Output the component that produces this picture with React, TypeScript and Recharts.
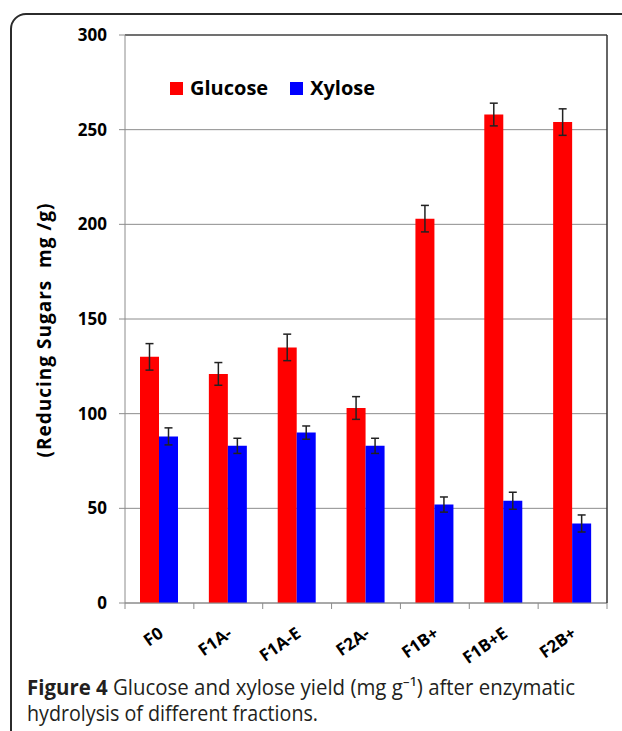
import { Bar, BarChart, CartesianGrid, ErrorBar, Legend, ReferenceLine, XAxis, YAxis } from 'recharts';

const CATEGORIES = ['F0', 'F1A-', 'F1A-E', 'F2A-', 'F1B+', 'F1B+E', 'F2B+'];
const GLUCOSE = [130, 121, 135, 103, 203, 258, 254];
const GLUCOSE_ERR = [7, 6, 7, 6, 7, 6, 7];
const XYLOSE = [88, 83, 90, 83, 52, 54, 42];
const XYLOSE_ERR = [4.5, 4, 3.5, 4, 4, 4.5, 4.5];
const Y_TICKS = [0, 50, 100, 150, 200, 250, 300];

const WIDTH = 622;
const HEIGHT = 731;
const PLOT_LEFT = 125;
const PLOT_RIGHT = 607;
const PLOT_TOP = 35;
const PLOT_BOTTOM = 603;
const Y_AXIS_W = 60;
const X_AXIS_H = 40;
const STEP = (PLOT_RIGHT - PLOT_LEFT) / CATEGORIES.length;

const FONT = '"Open Sans", "Noto Sans", sans-serif';
const GRID = '#8c8c8c';

const data = CATEGORIES.map((name, i) => ({
  name,
  glucose: GLUCOSE[i],
  glucoseErr: GLUCOSE_ERR[i],
  xylose: XYLOSE[i],
  xyloseErr: XYLOSE_ERR[i],
}));

function CategoryTick({ x, y, payload, index }: any) {
  const left = x - STEP / 2;
  const ax = x + 5;
  const ay = y + 33;
  return (
    <g>
      <line x1={left} x2={left} y1={y} y2={y + 6} stroke={GRID} />
      {index === CATEGORIES.length - 1 && (
        <line x1={x + STEP / 2} x2={x + STEP / 2} y1={y} y2={y + 6} stroke={GRID} />
      )}
      <text
        x={ax}
        y={ay}
        transform={`rotate(-35, ${ax}, ${ay})`}
        textAnchor="end"
        fontFamily={FONT}
        fontWeight={700}
        fontSize={17}
        fill="#000"
      >
        {payload.value}
      </text>
    </g>
  );
}

function LegendContent({ payload }: any) {
  return (
    <div style={{ display: 'flex', alignItems: 'center', fontFamily: FONT, fontWeight: 700, fontSize: 20 }}>
      {(payload || []).map((item: any, i: number) => (
        <span key={item.value} style={{ display: 'flex', alignItems: 'center', marginRight: i === 0 ? 22 : 0 }}>
          <span style={{ width: 13, height: 13, background: item.color, marginRight: 7 }} />
          <span style={{ color: '#000', lineHeight: '20px' }}>{item.value}</span>
        </span>
      ))}
    </div>
  );
}

export default function App() {
  return (
    <div style={{ position: 'absolute', left: 0, top: 0, width: WIDTH, height: HEIGHT, overflow: 'hidden', background: '#fff' }}>
      <div
        style={{
          position: 'absolute',
          left: 10,
          top: 13,
          width: 660,
          height: 740,
          border: '2px solid #2b2b2b',
          borderRadius: 16,
          boxSizing: 'border-box',
        }}
      />
      <div style={{ position: 'absolute', left: 0, top: 0 }}>
        <BarChart
          width={WIDTH}
          height={HEIGHT}
          data={data}
          margin={{
            top: PLOT_TOP,
            right: WIDTH - PLOT_RIGHT - 1,
            left: PLOT_LEFT - Y_AXIS_W,
            bottom: HEIGHT - PLOT_BOTTOM - X_AXIS_H,
          }}
          barCategoryGap={15}
          barGap={0}
        >
          <CartesianGrid vertical={false} stroke={GRID} />
          <XAxis
            dataKey="name"
            height={X_AXIS_H}
            interval={0}
            tickSize={0}
            tickMargin={0}
            tickLine={false}
            axisLine={{ stroke: GRID }}
            tick={<CategoryTick />}
          />
          <YAxis
            width={Y_AXIS_W}
            domain={[0, 300]}
            ticks={Y_TICKS}
            interval={0}
            tickSize={6}
            tickMargin={12}
            axisLine={{ stroke: GRID }}
            tickLine={{ stroke: GRID }}
            tick={{ fill: '#000', fontSize: 17, fontWeight: 700, fontFamily: FONT }}
          />
          <YAxis
            yAxisId="frame"
            orientation="right"
            width={1}
            domain={[0, 300]}
            tick={false}
            tickLine={false}
            axisLine={{ stroke: '#333', strokeWidth: 1.5 }}
          />
          <ReferenceLine y={300} stroke="#555" strokeWidth={1.5} />
          <Legend
            layout="vertical"
            align="center"
            verticalAlign="middle"
            wrapperStyle={{ left: 170, top: 78, width: 'auto', height: 'auto' }}
            content={<LegendContent />}
          />
          <Bar dataKey="glucose" name="Glucose" fill="#ff0000" isAnimationActive={false}>
            <ErrorBar dataKey="glucoseErr" direction="y" width={4} stroke="#222" strokeWidth={1.5} isAnimationActive={false} />
          </Bar>
          <Bar dataKey="xylose" name="Xylose" fill="#0000ff" isAnimationActive={false}>
            <ErrorBar dataKey="xyloseErr" direction="y" width={4} stroke="#222" strokeWidth={1.5} isAnimationActive={false} />
          </Bar>
        </BarChart>
      </div>
      <svg width={WIDTH} height={HEIGHT} style={{ position: 'absolute', left: 0, top: 0, pointerEvents: 'none' }}>
        <text
          x={51}
          y={330}
          transform="rotate(-90, 51, 330)"
          textAnchor="middle"
          fontFamily={FONT}
          fontWeight={700}
          fontSize={19}
          letterSpacing={1}
          fill="#000"
        >
          (Reducing Sugars{'\u00a0\u00a0'}mg /g)
        </text>
        <text x={27} y={695} fontFamily={FONT} fontSize={21} fill="#231f20" textLength={548} lengthAdjust="spacingAndGlyphs">
          <tspan fontWeight={700}>Figure 4</tspan>
          {' Glucose and xylose yield (mg g\u207B\u00B9) after enzymatic'}
        </text>
        <text x={27} y={721} fontFamily={FONT} fontSize={21} fill="#231f20" textLength={291} lengthAdjust="spacingAndGlyphs">
          hydrolysis of different fractions.
        </text>
      </svg>
    </div>
  );
}
